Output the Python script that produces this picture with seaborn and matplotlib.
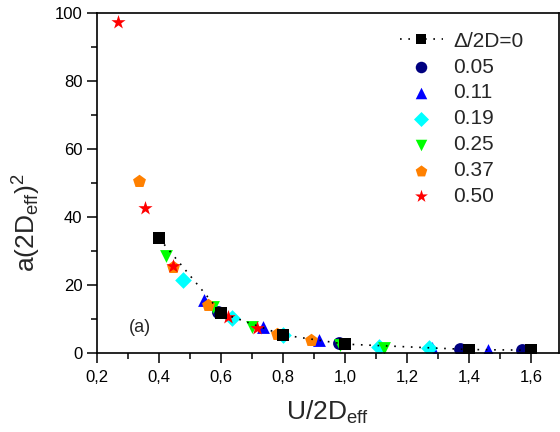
import matplotlib
matplotlib.use("Agg")
import matplotlib.pyplot as plt
from matplotlib.ticker import FuncFormatter, MultipleLocator
import seaborn as sns

# Delta/2D = 0 (reference, joined by a dotted line)
x_ref = [0.40, 0.60, 0.80, 1.00, 1.40, 1.60]
y_ref = [33.8, 11.8, 5.3, 2.6, 1.0, 0.8]

# other Delta/2D values
x_005 = [0.59, 0.98, 1.37, 1.57]
y_005 = [12.0, 3.0, 1.1, 0.9]
x_011 = [0.545, 0.735, 0.915, 1.28, 1.46]
y_011 = [15.6, 7.6, 3.8, 1.5, 1.0]
x_019 = [0.477, 0.637, 0.80, 1.11, 1.27]
y_019 = [21.5, 10.3, 5.3, 1.8, 1.5]
x_025 = [0.422, 0.574, 0.70, 0.985, 1.126]
y_025 = [28.5, 13.5, 7.6, 2.4, 1.5]
x_037 = [0.335, 0.445, 0.558, 0.78, 0.89]
y_037 = [50.5, 25.3, 14.1, 5.5, 3.9]
x_050 = [0.268, 0.355, 0.445, 0.623, 0.716]
y_050 = [97.3, 42.6, 25.5, 10.6, 7.4]

sns.set_theme(style="ticks")
plt.rcParams["font.family"] = ["Liberation Sans", "DejaVu Sans"]
plt.rcParams["mathtext.fontset"] = "custom"
plt.rcParams["mathtext.rm"] = "Liberation Sans"
plt.rcParams["mathtext.it"] = "Liberation Sans:italic"

fig = plt.figure(figsize=(5.6, 4.32), dpi=100)
ax = fig.add_axes([0.173, 0.183, 0.825, 0.787])

sns.lineplot(x=x_ref, y=y_ref, ax=ax, color="black", marker="s", markersize=8,
             linestyle=(0, (1, 4)), linewidth=1.2, markeredgewidth=0,
             label="\u0394/2D=0", sort=False)

series = [
    (x_005, y_005, "0.05", "o", "#000080", 85),
    (x_011, y_011, "0.11", "^", "#0000FF", 85),
    (x_019, y_019, "0.19", "D", "#00FFFF", 72),
    (x_025, y_025, "0.25", "v", "#00FF00", 85),
    (x_037, y_037, "0.37", "p", "#FF8000", 95),
    (x_050, y_050, "0.50", "*", "#FF0000", 115),
]
for xs, ys, lab, mk, col, sz in series:
    sns.scatterplot(x=xs, y=ys, ax=ax, marker=mk, color=col, s=sz,
                    linewidth=0, label=lab)

ax.set_xlim(0.2, 1.69)
ax.set_ylim(0, 100)
ax.xaxis.set_major_locator(MultipleLocator(0.2))
ax.xaxis.set_minor_locator(MultipleLocator(0.1))
ax.yaxis.set_major_locator(MultipleLocator(20))
ax.yaxis.set_minor_locator(MultipleLocator(10))
ax.xaxis.set_major_formatter(FuncFormatter(lambda v, p: f"{v:.1f}".replace(".", ",")))
ax.yaxis.set_major_formatter(FuncFormatter(lambda v, p: f"{v:.0f}"))
ax.tick_params(which="both", direction="out", top=False, right=False,
               labelsize=12, color="black", labelcolor="black", width=1.1)
ax.tick_params(which="major", length=7)
ax.tick_params(which="minor", length=4)
ax.tick_params(axis="x", which="major", pad=5)
for sp in ax.spines.values():
    sp.set_visible(True)
    sp.set_color("black")
    sp.set_linewidth(1.2)

ax.set_xlabel(r"U/2D$_{\mathrm{eff}}$", fontsize=19)
ax.set_ylabel(r"a(2D$_{\mathrm{eff}}$)$^{2}$", fontsize=19)
ax.xaxis.set_label_coords(0.5, -0.135)
ax.yaxis.set_label_coords(-0.117, 0.385)
ax.text(0.34, 7.6, "(a)", fontsize=13, ha="center", va="center")

ax.legend(loc="upper left", bbox_to_anchor=(0.656, 0.945), frameon=False,
          fontsize=15, handlelength=2.05, handletextpad=0.5,
          labelspacing=0.33, borderaxespad=0, borderpad=0, markerscale=0.9)

fig.savefig("out.png", dpi=100)
